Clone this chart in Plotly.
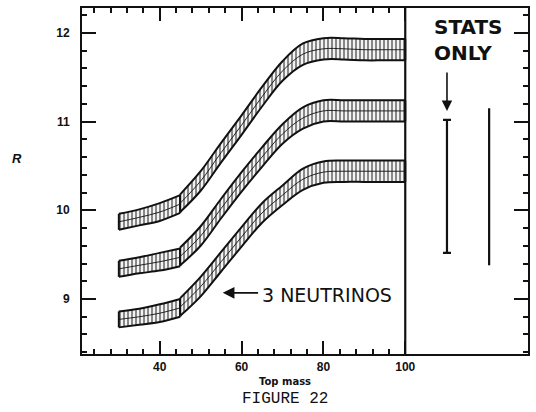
import plotly.graph_objects as go

# Top-quark mass grid for the two pieces of each band (break at 45 GeV)
mass_lo = [30, 35, 40, 45]
mass_hi = [45, 50, 55, 60, 65, 70, 75, 80, 85, 90, 95, 100]

# Central R values of the three bands
R_top_lo = [9.87, 9.92, 9.98, 10.07]
R_top_hi = [10.08, 10.33, 10.65, 10.96, 11.28, 11.57, 11.76, 11.82, 11.82, 11.81, 11.81, 11.81]
R_mid_lo = [9.34, 9.38, 9.42, 9.47]
R_mid_hi = [9.48, 9.71, 10.02, 10.32, 10.60, 10.86, 11.04, 11.12, 11.12, 11.12, 11.12, 11.12]
R_bot_lo = [8.77, 8.80, 8.84, 8.90]
R_bot_hi = [8.91, 9.14, 9.42, 9.70, 9.97, 10.17, 10.35, 10.43, 10.44, 10.44, 10.44, 10.44]

# Half-width of the bands
err_lo = [0.09, 0.09, 0.10, 0.10]
err_hi = [0.10, 0.11, 0.11, 0.11, 0.11, 0.11, 0.12, 0.12, 0.12, 0.12, 0.12, 0.12]

# Statistical-only error bars shown at the right
stats_x = [110.2, 120.5]
stats_R = [10.27, 10.265]
stats_err = [0.75, 0.885]

x_ticks = [40, 60, 80, 100]
y_ticks = [9, 10, 11, 12]

INK = "#111111"
fig = go.Figure()


def add_band(xs, centre, half):
    lower = [c - h for c, h in zip(centre, half)]
    upper = [c + h for c, h in zip(centre, half)]
    fig.add_trace(go.Scatter(x=xs, y=lower, mode="lines",
                             line=dict(color=INK, width=2, shape="spline"),
                             hoverinfo="skip"))
    fig.add_trace(go.Scatter(x=xs, y=upper, mode="lines", fill="tonexty",
                             fillcolor="rgba(0,0,0,0)",
                             fillpattern=dict(shape="|", size=4, solidity=0.55,
                                              fgcolor=INK, bgcolor="white"),
                             line=dict(color=INK, width=2, shape="spline"),
                             hoverinfo="skip"))
    fig.add_trace(go.Scatter(x=xs, y=centre, mode="lines",
                             line=dict(color=INK, width=0.9, shape="spline"),
                             hoverinfo="skip"))
    # closed ends of each band piece
    fig.add_trace(go.Scatter(x=[xs[0], xs[-1]], y=[centre[0], centre[-1]],
                             mode="markers", marker=dict(size=1, color=INK),
                             error_y=dict(type="data", array=[half[0], half[-1]],
                                          color=INK, thickness=2, width=0),
                             hoverinfo="skip"))


for lo, hi in [(R_top_lo, R_top_hi), (R_mid_lo, R_mid_hi), (R_bot_lo, R_bot_hi)]:
    add_band(mass_lo, lo, err_lo)
    add_band(mass_hi, hi, err_hi)

# stats-only bars: first with caps, second plain
fig.add_trace(go.Scatter(x=[stats_x[0]], y=[stats_R[0]], mode="markers",
                         marker=dict(size=1, color=INK),
                         error_y=dict(type="data", array=[stats_err[0]],
                                      color=INK, thickness=2.2, width=4)))
fig.add_trace(go.Scatter(x=[stats_x[1]], y=[stats_R[1]], mode="markers",
                         marker=dict(size=1, color=INK),
                         error_y=dict(type="data", array=[stats_err[1]],
                                      color=INK, thickness=2.2, width=0)))

# divider at 100 GeV
fig.add_shape(type="line", x0=100, x1=100, y0=0, y1=1, xref="x", yref="paper",
              line=dict(color=INK, width=2.2))

tick_font = dict(family="Liberation Sans", size=12, color=INK, weight="bold")

fig.update_xaxes(range=[21, 130], tickvals=x_ticks, ticks="inside", ticklen=13,
                 tickwidth=2, tickcolor=INK, showline=True, linewidth=2,
                 linecolor=INK, mirror="ticks", showgrid=False, zeroline=False,
                 tickfont=tick_font, ticklabelstandoff=1,
                 minor=dict(tickvals=[24, 28, 32, 36, 44, 48, 52, 56, 64, 68, 72,
                                      76, 84, 88, 92, 96],
                            ticks="inside", ticklen=5, tickwidth=1.5,
                            tickcolor=INK, showgrid=False))
fig.update_yaxes(range=[8.38, 12.28], tickvals=y_ticks, ticks="inside", ticklen=14,
                 tickwidth=2, tickcolor=INK, showline=True, linewidth=2,
                 linecolor=INK, mirror="ticks", showgrid=False, zeroline=False,
                 tickfont=tick_font, ticklabelstandoff=8,
                 minor=dict(dtick=0.2, tick0=0, ticks="inside", ticklen=5,
                            tickwidth=1.5, tickcolor=INK, showgrid=False))

annotations = [
    dict(text="R", x=-0.146, y=0.566, xref="paper", yref="paper",
         xanchor="center", yanchor="middle", showarrow=False,
         font=dict(family="Liberation Sans", size=13, color=INK,
                   weight="bold", style="italic")),
    dict(text="Top mass", x=0.455, y=-0.08, xref="paper", yref="paper",
         xanchor="center", yanchor="middle", showarrow=False,
         font=dict(family="DejaVu Sans", size=10, color=INK, weight="bold")),
    dict(text="FIGURE 22", x=0.455, y=-0.131, xref="paper", yref="paper",
         xanchor="center", yanchor="middle", showarrow=False,
         font=dict(family="Liberation Mono", size=16, color=INK)),
    dict(text="STATS<br>ONLY", x=106.6, y=11.92, xref="x", yref="y",
         xanchor="left", yanchor="middle", align="left", showarrow=False,
         font=dict(family="DejaVu Sans", size=20, color=INK, weight="bold")),
    dict(text="", x=110.2, y=11.12, ax=110.2, ay=11.57, xref="x", yref="y",
         axref="x", ayref="y", showarrow=True, arrowhead=2, arrowsize=1.3,
         arrowwidth=1.6, arrowcolor=INK),
    dict(text="3 NEUTRINOS", x=64.6, y=9.04, xref="x", yref="y",
         xanchor="left", yanchor="middle", showarrow=False,
         font=dict(family="DejaVu Sans", size=19, color=INK)),
    dict(text="", x=55.4, y=9.07, ax=64.4, ay=9.07, xref="x", yref="y",
         axref="x", ayref="y", showarrow=True, arrowhead=2, arrowsize=1.3,
         arrowwidth=1.8, arrowcolor=INK),
]

fig.update_layout(width=536, height=412, margin=dict(l=82, r=8, t=6, b=58),
                  plot_bgcolor="white", paper_bgcolor="white", showlegend=False,
                  annotations=annotations)

fig.write_html("out.html")
